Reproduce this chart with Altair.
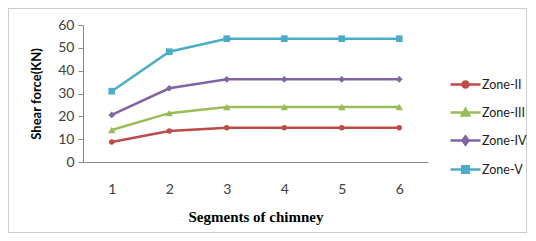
import altair as alt
import pandas as pd

segments = ["1", "2", "3", "4", "5", "6"]
zones = ["Zone-II", "Zone-III", "Zone-IV", "Zone-V"]
zone_ii = [8.8, 13.6, 15.0, 15.0, 15.0, 15.0]
zone_iii = [14.0, 21.4, 24.1, 24.1, 24.1, 24.1]
zone_iv = [20.6, 32.3, 36.2, 36.2, 36.2, 36.2]
zone_v = [31.0, 48.3, 54.0, 54.0, 54.0, 54.0]
colors = ["#BE4B48", "#9BBB59", "#8064A2", "#4BACC6"]
marker_shapes = ["circle", "triangle-up", "diamond", "square"]
marker_sizes = [30, 55, 45, 45]
legend_paths = [
    "M-1,0L1,0M0.2,0A0.2,0.2,0,1,1,-0.2,0A0.2,0.2,0,1,1,0.2,0Z",
    "M-1,0L1,0M0,-0.25L0.25,0.2L-0.25,0.2Z",
    "M-1,0L1,0M0,-0.27L0.2,0L0,0.27L-0.2,0Z",
    "M-1,0L1,0M-0.22,-0.22L0.22,-0.22L0.22,0.22L-0.22,0.22Z",
]

rows = []
for z, vals in zip(zones, [zone_ii, zone_iii, zone_iv, zone_v]):
    for s, v in zip(segments, vals):
        rows.append({"segment": s, "zone": z, "value": v})
df = pd.DataFrame(rows)

x_enc = alt.X(
    "segment:O",
    sort=segments,
    title="Segments of chimney",
    axis=alt.Axis(
        labelAngle=0, ticks=False, labelPadding=20, domainColor="#888888",
        labelFont="Lato", labelFontSize=14, labelColor="#404040",
        titleFont="Liberation Serif", titleFontSize=15, titleFontWeight="bold",
        titleColor="#000000", titlePadding=13,
    ),
)
y_enc = alt.Y(
    "value:Q",
    title="Shear force(KN)",
    scale=alt.Scale(domain=[0, 60]),
    axis=alt.Axis(
        values=[0, 10, 20, 30, 40, 50, 60], grid=False, tickSize=5, tickColor="#888888",
        domainColor="#888888", labelPadding=4, labelFont="Lato", labelFontSize=14,
        labelColor="#404040", titleFont="Lato", titleFontSize=13, titleFontWeight="bold",
        titleColor="#000000", titlePadding=14,
    ),
)
color_scale = alt.Scale(domain=zones, range=colors)

leg_props = dict(
    title=None, orient="none", legendX=366, legendY=43, symbolSize=900,
    symbolStrokeWidth=2.5, symbolOpacity=1, labelFont="Lato", labelFontSize=12.5,
    labelColor="#202020", rowPadding=3, labelOffset=0,
)
color_enc = alt.Color("zone:N", scale=color_scale, legend=alt.Legend(**leg_props))

base = alt.Chart(df)
lines = base.mark_line(strokeWidth=2.5).encode(x=x_enc, y=y_enc, color=color_enc)
point_layers = []
for z, shp, sz in zip(zones, marker_shapes, marker_sizes):
    point_layers.append(
        base.transform_filter(alt.datum.zone == z)
        .mark_point(filled=True, opacity=1, shape=shp, size=sz)
        .encode(x=x_enc, y=y_enc, color=color_enc)
    )

legend_layer = base.transform_filter("false").mark_point(filled=True).encode(
    x=x_enc, y=y_enc,
    color=color_enc,
    shape=alt.Shape("zone:N", scale=alt.Scale(domain=zones, range=legend_paths),
                    legend=alt.Legend(**leg_props)),
)

frame = alt.Chart(pd.DataFrame({"a": [0]})).mark_rect(
    fill=None, stroke="#999999", strokeDash=[1, 1], strokeWidth=1
).encode(x=alt.value(-74.5), x2=alt.value(443.5), y=alt.value(-16.5), y2=alt.value(207.5))

chart = alt.layer(frame, lines, *point_layers, legend_layer).properties(
    width=345, height=137,
    autosize=alt.AutoSizeParams(type="none"),
    padding={"left": 75, "top": 17, "right": 100, "bottom": 71},
).configure_view(stroke=None)

chart.save("out.html", embed_options={"renderer": "svg", "actions": False})
